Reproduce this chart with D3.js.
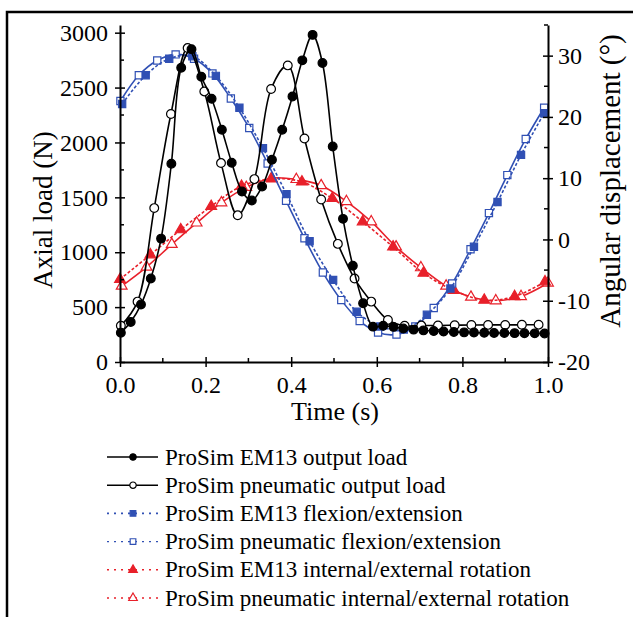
<!DOCTYPE html>
<html>
<head>
<meta charset="utf-8">
<script src="https://cdn.jsdelivr.net/npm/d3@7"></script>
<style>
  body { margin: 0; background: #fff; }
  svg text { font-family: "Liberation Serif", "Times New Roman", serif; fill: #000; }
</style>
</head>
<body>
<div id="chart"></div>
<script>
// sample times (s) and values
const tLoadEM13 = [0.002, 0.025, 0.049, 0.072, 0.096, 0.120, 0.143, 0.167, 0.190, 0.214, 0.238, 0.261, 0.285, 0.308, 0.332,
  0.355, 0.379, 0.403, 0.426, 0.450, 0.473, 0.497, 0.521, 0.544, 0.568, 0.591, 0.615, 0.639, 0.662, 0.686,
  0.709, 0.733, 0.756, 0.780, 0.804, 0.827, 0.851, 0.874, 0.898, 0.922, 0.945, 0.969, 0.992];
const loadEM13 = [267, 365, 523, 760, 1124, 1806, 2681, 2850, 2599, 2398, 2116, 1815, 1553, 1471, 1599,
  1842, 2116, 2419, 2748, 2980, 2724, 1963, 1304, 876, 535, 322, 330, 320, 305, 295,
  288, 282, 277, 273, 270, 268, 266, 265, 264, 263, 262, 261, 260];

const tLoadPneu = [0.002, 0.041, 0.080, 0.119, 0.158, 0.197, 0.236, 0.275, 0.314, 0.353, 0.392, 0.431, 0.470,
  0.509, 0.548, 0.587, 0.626, 0.665, 0.704, 0.743, 0.782, 0.821, 0.860, 0.900, 0.939, 0.978];
const loadPneu = [330, 550, 1402, 2259, 2860, 2465, 1812, 1336, 1666, 2487, 2702, 2036, 1480,
  1076, 760, 550, 383, 330, 332, 333, 335, 337, 338, 338, 339, 340];

const tFlexEM13 = [0.005, 0.060, 0.115, 0.169, 0.224, 0.279, 0.334, 0.389, 0.443, 0.498, 0.553, 0.608, 0.663,
  0.717, 0.772, 0.827, 0.882, 0.937, 0.991];
const flexEM13 = [22.1, 26.8, 29.5, 29.9, 26.7, 21.5, 14.9, 7.4, -0.3, -6.6, -11.8, -14.2, -14.7,
  -12.3, -8.0, -1.2, 6.1, 13.8, 20.6];

const tFlexPneu = [0.001, 0.044, 0.087, 0.130, 0.173, 0.216, 0.259, 0.302, 0.345, 0.388, 0.431, 0.474, 0.517,
  0.560, 0.603, 0.646, 0.690, 0.733, 0.776, 0.819, 0.862, 0.905, 0.948, 0.991];
const flexPneu = [22.6, 26.8, 29.2, 30.2, 29.5, 27.1, 23.0, 18.2, 12.4, 6.3, 0.2, -5.4, -9.9,
  -13.3, -15.2, -15.5, -14.2, -11.2, -7.2, -1.6, 4.3, 10.5, 16.4, 21.5];

const tRotEM13 = [0, 0.071, 0.142, 0.213, 0.284, 0.355, 0.425, 0.496, 0.567, 0.638, 0.709, 0.780, 0.851, 0.922, 0.993];
const rotEM13 = [-6.5, -2.5, 1.6, 5.4, 8.7, 9.9, 9.4, 6.7, 2.9, -1.2, -5.5, -8.3, -9.9, -9.3, -6.9];

const tRotPneu = [0.004, 0.062, 0.121, 0.179, 0.237, 0.295, 0.354, 0.412, 0.470, 0.529, 0.587, 0.645, 0.703,
  0.762, 0.820, 0.878, 0.937, 1.0];
const rotPneu = [-7.6, -4.5, -0.8, 2.7, 6.0, 8.5, 10.0, 9.8, 8.8, 6.2, 2.9, -1.2, -4.6,
  -7.6, -9.4, -10.0, -9.3, -7.1];

const xTicks = [0, 0.2, 0.4, 0.6, 0.8, 1.0];
const xMinor = [0.1, 0.3, 0.5, 0.7, 0.9];
const loadTicks = [0, 500, 1000, 1500, 2000, 2500, 3000];
const loadMinor = [250, 750, 1250, 1750, 2250, 2750];
const angTicks = [-20, -10, 0, 10, 20, 30];
const angMinor = [-15, -5, 5, 15, 25, 35];

const legendLabels = [
  "ProSim EM13 output load",
  "ProSim pneumatic output load",
  "ProSim EM13 flexion/extension",
  "ProSim pneumatic flexion/extension",
  "ProSim EM13 internal/external rotation",
  "ProSim pneumatic internal/external rotation"
];

const BLUE = "#3050b4";
const RED = "#e8202a";

const w = 633, h = 617;
const svg = d3.select("#chart").append("svg").attr("width", w).attr("height", h);
svg.append("rect").attr("width", w).attr("height", h).attr("fill", "#fff");

// outer frame (top and left edges only)
svg.append("path").attr("d", `M7,617 V12 H633`).attr("fill", "none").attr("stroke", "#000").attr("stroke-width", 2.5);

const x = d3.scaleLinear().domain([0, 1]).range([120, 548]);
const yL = d3.scaleLinear().domain([0, 3070]).range([362, 25]);
const yR = d3.scaleLinear().domain([-20, 35]).range([362, 25]);

const series = [
  { t: tLoadEM13, v: loadEM13, y: yL, color: "#000", fill: "#000", shape: "circle", dash: null },
  { t: tLoadPneu, v: loadPneu, y: yL, color: "#000", fill: "#fff", shape: "circle", dash: null },
  { t: tFlexEM13, v: flexEM13, y: yR, color: BLUE, fill: BLUE, shape: "square", dash: "3,2" },
  { t: tFlexPneu, v: flexPneu, y: yR, color: BLUE, fill: "#fff", shape: "square", dash: null },
  { t: tRotEM13, v: rotEM13, y: yR, color: RED, fill: RED, shape: "triangle", dash: "3,2" },
  { t: tRotPneu, v: rotPneu, y: yR, color: RED, fill: "#fff", shape: "triangle", dash: null }
];

function symbolFor(shape, size) {
  const type = shape === "circle" ? d3.symbolCircle : shape === "square" ? d3.symbolSquare : d3.symbolTriangle;
  return d3.symbol().type(type).size(size)();
}
const markerSize = { circle: 60, square: 52, triangle: 50 };

// draw in back-to-front order: angles first, loads on top
const order = [5, 4, 3, 2, 1, 0];
order.forEach(i => {
  const s = series[i];
  const pts = s.t.map((t, k) => [t, s.v[k]]);
  const line = d3.line().x(d => x(d[0])).y(d => s.y(d[1])).curve(d3.curveCatmullRom.alpha(0.5));
  svg.append("path")
    .attr("d", line(pts))
    .attr("fill", "none")
    .attr("stroke", s.color)
    .attr("stroke-width", 1.6)
    .attr("stroke-dasharray", s.dash);
  svg.append("g").selectAll("path")
    .data(pts)
    .enter()
    .append("path")
    .attr("d", symbolFor(s.shape, markerSize[s.shape]))
    .attr("transform", d => `translate(${x(d[0])},${s.y(d[1])})`)
    .attr("fill", s.fill)
    .attr("stroke", s.color)
    .attr("stroke-width", 1.2);
});

// axes
const tickFont = 24;
const xAxis = svg.append("g").attr("transform", "translate(0,362)")
  .call(d3.axisBottom(x).tickValues(xTicks).tickFormat(d3.format(".1f")).tickSize(5).tickSizeOuter(0).tickPadding(9));
xAxis.selectAll(".tick line").attr("y1", -5);
xAxis.append("g").selectAll("line").data(xMinor).enter().append("line")
  .attr("x1", d => x(d)).attr("x2", d => x(d)).attr("y1", 0).attr("y2", -4).attr("stroke", "#000").attr("stroke-width", 1.5);

const yAxisL = svg.append("g").attr("transform", "translate(120,0)")
  .call(d3.axisLeft(yL).tickValues(loadTicks).tickFormat(d3.format("d")).tickSize(5).tickSizeOuter(0).tickPadding(7));
yAxisL.selectAll(".tick line").attr("x1", 5);
yAxisL.append("g").selectAll("line").data(loadMinor).enter().append("line")
  .attr("y1", d => yL(d)).attr("y2", d => yL(d)).attr("x1", 0).attr("x2", 4).attr("stroke", "#000").attr("stroke-width", 1.5);

const yAxisR = svg.append("g").attr("transform", "translate(548,0)")
  .call(d3.axisRight(yR).tickValues(angTicks).tickFormat(d3.format("d")).tickSize(5).tickSizeOuter(0).tickPadding(5));
yAxisR.selectAll(".tick line").attr("x1", -5);
yAxisR.append("g").selectAll("line").data(angMinor).enter().append("line")
  .attr("y1", d => yR(d)).attr("y2", d => yR(d)).attr("x1", 0).attr("x2", -4).attr("stroke", "#000").attr("stroke-width", 1.5);

[xAxis, yAxisL, yAxisR].forEach(a => {
  a.attr("font-family", null);
  a.select(".domain").attr("stroke-width", 2);
  a.selectAll(".tick line").attr("stroke-width", 1.5);
  a.selectAll("text").style("font-size", tickFont + "px").attr("fill", "#000");
});
// plain hyphen for negative labels, as in the figure
yAxisR.selectAll(".tick text").text(d => String(d));

// axis titles
svg.append("text")
  .attr("transform", "translate(52,210) rotate(-90)")
  .attr("text-anchor", "middle")
  .style("font-size", "27px")
  .text("Axial load (N)");

svg.append("text")
  .attr("transform", "translate(620,181) rotate(-90)")
  .attr("text-anchor", "middle")
  .style("font-size", "29px")
  .text("Angular displacement (°)");

svg.append("text")
  .attr("x", 335).attr("y", 420)
  .attr("text-anchor", "middle")
  .style("font-size", "26px")
  .text("Time (s)");

// legend
const legend = svg.append("g").attr("transform", "translate(107,457)");
legendLabels.forEach((label, i) => {
  const s = series[i];
  const row = legend.append("g").attr("transform", `translate(0,${i * 28.2})`);
  row.append("line")
    .attr("x1", 0).attr("x2", 51).attr("y1", 0).attr("y2", 0)
    .attr("stroke", s.color)
    .attr("stroke-width", s.dash ? 1.6 : 1.4)
    .attr("stroke-dasharray", i < 2 ? null : "2,5");
  row.append("path")
    .attr("d", symbolFor(s.shape, 32))
    .attr("transform", "translate(26,0)")
    .attr("fill", s.fill)
    .attr("stroke", s.color)
    .attr("stroke-width", 1.2);
  row.append("text")
    .attr("x", 58).attr("y", 0).attr("dy", "0.33em")
    .style("font-size", "23px")
    .text(label);
});
</script>
</body>
</html>
